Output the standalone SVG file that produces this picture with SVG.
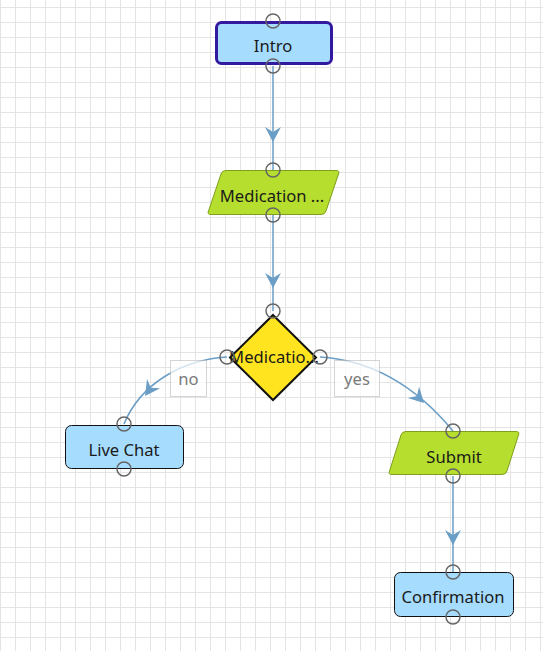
<svg xmlns="http://www.w3.org/2000/svg" width="543" height="651" viewBox="0 0 543 651">
  <style>
    .txt { font-family: "Noto Sans", "Open Sans", sans-serif; font-size: 16.6px; fill: #1a1a1a; text-anchor: middle; dominant-baseline: central; }
    .lbl { font-family: "Noto Sans", "Open Sans", sans-serif; font-size: 16.6px; fill: #7a7a7a; text-anchor: middle; dominant-baseline: central; }
    .proc { fill: #a6dcfe; stroke: #111; stroke-width: 1; }
    .data { fill: #b6de2e; stroke: #7f9e1c; stroke-width: 1; }
    .port { fill: none; stroke: #666; stroke-width: 1.5; }
    .edge { fill: none; stroke: #6a9ec6; stroke-width: 1.5; }
    .head { fill: #6a9ec6; stroke: none; }
    .lblbox { fill: #ffffff; fill-opacity: 0.7; stroke: #aaa; stroke-width: 1; stroke-dasharray: 1 1; }
  </style>
  <defs>
    <pattern id="grid" width="15" height="15" patternUnits="userSpaceOnUse" x="0" y="7">
      <path d="M0.5 0 V15 M0 0.5 H15" fill="none" stroke="#e4e4e4" stroke-width="1"/>
    </pattern>
    <path id="arrow" d="M0 0 L-15 -8 L-10 0 L-15 8 Z"/>
  </defs>

  <rect width="543" height="651" fill="#ffffff"/>
  <rect width="543" height="651" fill="url(#grid)"/>

  <!-- connectors -->
  <g id="connectors">
    <path class="edge" d="M273 66 V170"/>
    <use href="#arrow" class="head" transform="translate(273 142) rotate(90)"/>

    <path class="edge" d="M273 215 V311"/>
    <use href="#arrow" class="head" transform="translate(273 288) rotate(90)"/>

    <path class="edge" d="M227 357 C180 360 140 385 124 424"/>
    <use href="#arrow" class="head" transform="translate(145 396) rotate(125)"/>

    <path class="edge" d="M320 357 C370 360 415 385 453 431"/>
    <use href="#arrow" class="head" transform="translate(424 403) rotate(45)"/>

    <path class="edge" d="M453 476 V572"/>
    <use href="#arrow" class="head" transform="translate(453 545) rotate(90)"/>

    <g id="label-no">
      <rect class="lblbox" x="170.5" y="360.5" width="36" height="36"/>
      <text class="lbl" x="188.5" y="378">no</text>
    </g>
    <g id="label-yes">
      <rect class="lblbox" x="334.5" y="360.5" width="45" height="36"/>
      <text class="lbl" x="357" y="378">yes</text>
    </g>
  </g>

  <!-- nodes -->
  <g id="intro">
    <rect x="216.5" y="22.5" width="115" height="41" rx="5" fill="#a6dcfe" stroke="#3318a0" stroke-width="3"/>
    <text class="txt" x="273" y="45">Intro</text>
    <circle class="port" cx="273" cy="21" r="7"/>
    <circle class="port" cx="273" cy="66" r="7"/>
  </g>

  <g id="medication-input">
    <path class="data" d="M226 170.5 H336 Q340 170.5 338.5 174 L326 211 Q325 214.5 321 214.5 H211 Q207 214.5 208.5 211 L221 174 Q222 170.5 226 170.5 Z"/>
    <text class="txt" x="272" y="195">Medication ...</text>
    <circle class="port" cx="273" cy="170" r="7"/>
    <circle class="port" cx="273" cy="215" r="7"/>
  </g>

  <g id="medication-decision">
    <path d="M273 315 L316 357.5 L273 400 L230 357.5 Z" fill="#ffe41f" stroke="#111" stroke-width="2"/>
    <text class="txt" x="274" y="356">Medicatio...</text>
    <circle class="port" cx="273" cy="311" r="7"/>
    <circle class="port" cx="227" cy="357" r="7"/>
    <circle class="port" cx="320" cy="357" r="7"/>
  </g>

  <g id="live-chat">
    <rect class="proc" x="65.5" y="425.5" width="118" height="43" rx="6"/>
    <text class="txt" x="124" y="449">Live Chat</text>
    <circle class="port" cx="124" cy="424" r="7"/>
    <circle class="port" cx="124" cy="469" r="7"/>
  </g>

  <g id="submit">
    <path class="data" d="M406 431.5 H516 Q520 431.5 518.5 435 L507 471 Q506 474.5 502 474.5 H392 Q388 474.5 389.5 471 L401 435 Q402 431.5 406 431.5 Z"/>
    <text class="txt" x="454" y="456">Submit</text>
    <circle class="port" cx="453" cy="431" r="7"/>
    <circle class="port" cx="453" cy="476" r="7"/>
  </g>

  <g id="confirmation">
    <rect class="proc" x="394.5" y="572.5" width="119" height="44" rx="6"/>
    <text class="txt" x="453" y="596">Confirmation</text>
    <circle class="port" cx="453" cy="572" r="7"/>
    <circle class="port" cx="453" cy="617" r="7"/>
  </g>
</svg>
